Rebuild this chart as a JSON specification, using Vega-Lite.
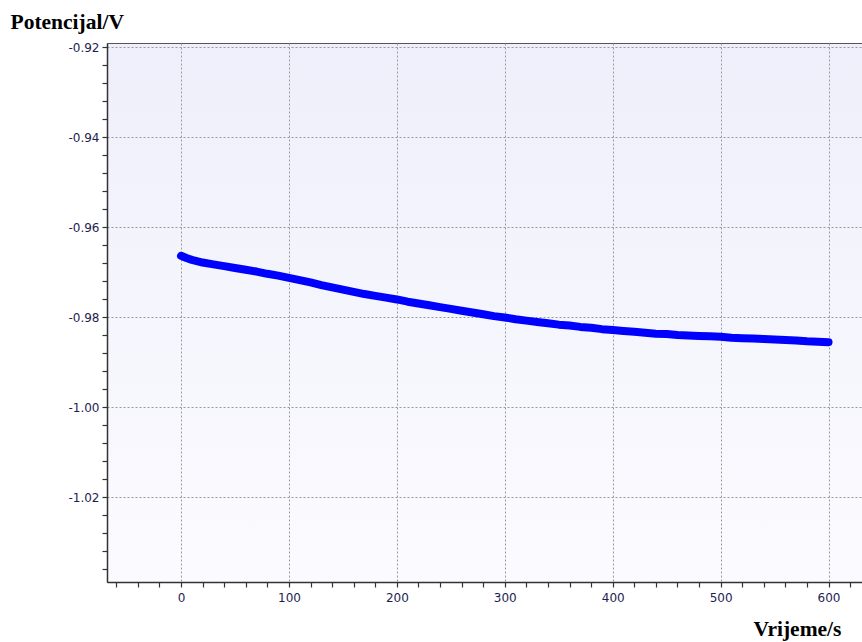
{
  "$schema": "https://vega.github.io/schema/vega-lite/v6.json",
  "width": 755,
  "height": 539,
  "autosize": {"type": "none"},
  "padding": {"left": 107, "top": 43, "right": 0, "bottom": 60},
  "background": "white",
  "config": {
    "view": {
      "fill": {"gradient": "linear", "x1": 0, "y1": 0, "x2": 0, "y2": 1,
        "stops": [{"offset": 0, "color": "#efeffb"}, {"offset": 1, "color": "#fbfbff"}]},
      "stroke": "#555555",
      "strokeWidth": 1
    },
    "axis": {
      "labelFont": "DejaVu Sans",
      "labelFontSize": 12,
      "labelColor": "#1e1e50",
      "domainColor": "#333333",
      "domainWidth": 1.5,
      "tickColor": "#333333",
      "tickWidth": 1.2,
      "tickSize": 5,
      "gridColor": "#999999",
      "gridDash": [2, 2],
      "gridWidth": 1,
      "titleFont": "Liberation Serif",
      "titleFontWeight": "bold",
      "titleFontSize": 21.5,
      "titleColor": "#000000"
    }
  },
  "data": {
    "values": [
      {"t": 0, "v": -0.9663}, {"t": 5, "v": -0.9668}, {"t": 10, "v": -0.9672},
      {"t": 20, "v": -0.9678}, {"t": 30, "v": -0.9682}, {"t": 40, "v": -0.9686},
      {"t": 50, "v": -0.9690}, {"t": 60, "v": -0.9694}, {"t": 70, "v": -0.9698},
      {"t": 80, "v": -0.9703}, {"t": 90, "v": -0.9707}, {"t": 100, "v": -0.9712},
      {"t": 110, "v": -0.9717}, {"t": 120, "v": -0.9722}, {"t": 130, "v": -0.9728},
      {"t": 140, "v": -0.9733}, {"t": 150, "v": -0.9738}, {"t": 160, "v": -0.9743},
      {"t": 170, "v": -0.9748}, {"t": 180, "v": -0.9752}, {"t": 190, "v": -0.9756},
      {"t": 200, "v": -0.9760}, {"t": 210, "v": -0.9765}, {"t": 220, "v": -0.9769},
      {"t": 230, "v": -0.9773}, {"t": 240, "v": -0.9777}, {"t": 250, "v": -0.9781},
      {"t": 260, "v": -0.9785}, {"t": 270, "v": -0.9789}, {"t": 280, "v": -0.9793},
      {"t": 290, "v": -0.9797}, {"t": 300, "v": -0.9800}, {"t": 310, "v": -0.9804},
      {"t": 320, "v": -0.9807}, {"t": 330, "v": -0.9810}, {"t": 340, "v": -0.9813},
      {"t": 350, "v": -0.9816}, {"t": 360, "v": -0.9818}, {"t": 370, "v": -0.9821},
      {"t": 380, "v": -0.9823}, {"t": 390, "v": -0.9826}, {"t": 400, "v": -0.9828},
      {"t": 410, "v": -0.9830}, {"t": 420, "v": -0.9832}, {"t": 430, "v": -0.9834},
      {"t": 440, "v": -0.9836}, {"t": 450, "v": -0.9837}, {"t": 460, "v": -0.9839},
      {"t": 470, "v": -0.9840}, {"t": 480, "v": -0.9841}, {"t": 490, "v": -0.9842},
      {"t": 500, "v": -0.9843}, {"t": 510, "v": -0.9845}, {"t": 520, "v": -0.9846},
      {"t": 530, "v": -0.9847}, {"t": 540, "v": -0.9848}, {"t": 550, "v": -0.9849},
      {"t": 560, "v": -0.9850}, {"t": 570, "v": -0.9851}, {"t": 580, "v": -0.9853},
      {"t": 590, "v": -0.9854}, {"t": 600, "v": -0.9855}
    ]
  },
  "mark": {"type": "line", "color": "#0000ff", "strokeWidth": 8, "strokeCap": "round", "strokeJoin": "round"},
  "encoding": {
    "x": {
      "field": "t", "type": "quantitative",
      "scale": {"domain": [-68.6, 631], "nice": false, "zero": false},
      "axis": {
        "title": "Vrijeme/s",
        "titleAngle": 0,
        "titleX": 646, "titleY": 53,
        "titleAlign": "left", "titleBaseline": "alphabetic",
        "values": [-60, -40, -20, 0, 20, 40, 60, 80, 100, 120, 140, 160, 180, 200, 220, 240, 260, 280, 300, 320, 340, 360, 380, 400, 420, 440, 460, 480, 500, 520, 540, 560, 580, 600, 620],
        "labelExpr": "datum.value % 100 === 0 ? datum.label : ''",
        "labelPadding": 5,
        "labelOverlap": false,
        "gridOpacity": {"condition": {"test": "datum.value % 100 === 0", "value": 1}, "value": 0}
      }
    },
    "y": {
      "field": "v", "type": "quantitative",
      "scale": {"domain": [-1.0388, -0.919], "nice": false, "zero": false},
      "axis": {
        "title": "Potencijal/V",
        "titleAngle": 0,
        "titleX": -97, "titleY": -15,
        "titleAlign": "left", "titleBaseline": "alphabetic",
        "values": [-1.036, -1.032, -1.028, -1.024, -1.02, -1.016, -1.012, -1.008, -1.004, -1.0, -0.996, -0.992, -0.988, -0.984, -0.98, -0.976, -0.972, -0.968, -0.964, -0.96, -0.956, -0.952, -0.948, -0.944, -0.94, -0.936, -0.932, -0.928, -0.924, -0.92],
        "labelExpr": "round(datum.value * 1000) % 20 === 0 ? '-' + format(abs(datum.value), '.2f') : ''",
        "labelPadding": 3,
        "labelOverlap": false,
        "gridOpacity": {"condition": {"test": "round(datum.value * 1000) % 20 === 0", "value": 1}, "value": 0}
      }
    }
  }
}
